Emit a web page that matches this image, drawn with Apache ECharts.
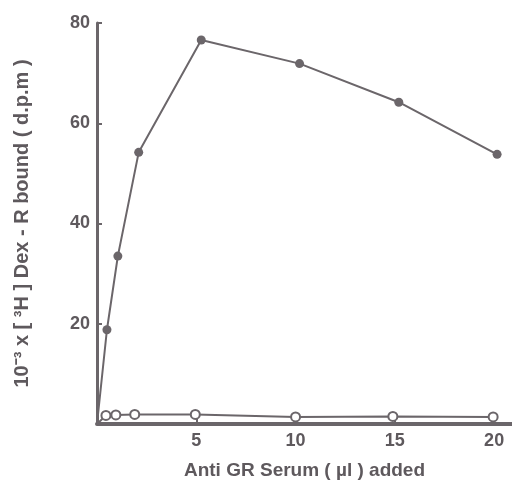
<!DOCTYPE html>
<html>
<head>
<meta charset="utf-8">
<script src="https://cdn.jsdelivr.net/npm/echarts@6/dist/echarts.min.js"></script>
<style>
html, body { margin: 0; padding: 0; background: #fff; }
#chart { width: 512px; height: 488px; }
</style>
</head>
<body>
<div id="chart"></div>
<script>
// serum volume (µl) and bound values
var filledX = [0, 0.5, 1.05, 2.1, 5.25, 10.2, 15.2, 20.15];
var filledY = [0, 18.8, 33.5, 54.2, 76.6, 71.9, 64.2, 53.8];
var openX = [0, 0.45, 0.95, 1.9, 4.95, 10, 14.9, 19.95];
var openY = [0, 1.7, 1.8, 1.9, 1.9, 1.4, 1.5, 1.4];
var yTicks = [0, 20, 40, 60, 80];
var xTicks = [5, 10, 15, 20];

var ink = '#6b666a';
var textInk = '#5e595d';

function toData(xs, ys) {
	var out = [];
	for (var i = 0; i < xs.length; i++) {
		// first point is the origin, drawn without a marker
		if (i === 0) out.push({ value: [xs[i], ys[i]], symbol: 'none' });
		else out.push([xs[i], ys[i]]);
	}
	return out;
}

var chart = echarts.init(document.getElementById('chart'));
var option = {
	animation: false,
	grid: { left: 97, right: 0, top: 23, bottom: 64 },
	textStyle: { fontFamily: 'Liberation Sans' },
	xAxis: {
		type: 'value',
		min: 0,
		max: 20.9,
		name: 'Anti GR Serum ( µl ) added',
		nameLocation: 'middle',
		nameGap: 37,
		nameTextStyle: { color: textInk, fontSize: 19, fontWeight: 'bold' },
		axisLine: { lineStyle: { color: ink, width: 4 } },
		axisTick: { inside: true, length: 5, lineStyle: { color: ink, width: 2 },
			customValues: xTicks },
		axisLabel: { color: textInk, fontSize: 18, fontWeight: 'bold', margin: 8,
			customValues: xTicks },
		splitLine: { show: false }
	},
	yAxis: {
		type: 'value',
		min: 0,
		max: 80,
		interval: 20,
		name: '10⁻³ x [ ³H ] Dex - R bound ( d.p.m )',
		nameLocation: 'middle',
		nameGap: 65,
		nameTextStyle: { color: textInk, fontSize: 20, fontWeight: 'bold' },
		axisLine: { show: true, lineStyle: { color: ink, width: 3 } },
		axisTick: { show: true, inside: true, length: 5, lineStyle: { color: ink, width: 2 } },
		axisLabel: {
			color: textInk, fontSize: 18, fontWeight: 'bold', margin: 7,
			formatter: function (v) { return (v === 0 || yTicks.indexOf(v) < 0) ? '' : v; }
		},
		splitLine: { show: false }
	},
	series: [{
		name: 'filled',
		type: 'line',
		data: toData(filledX, filledY),
		symbol: 'circle',
		symbolSize: 9,
		itemStyle: { color: ink },
		lineStyle: { color: ink, width: 2 }
	}, {
		name: 'open',
		type: 'line',
		data: toData(openX, openY),
		symbol: 'circle',
		symbolSize: 9,
		itemStyle: { color: '#fff', borderColor: ink, borderWidth: 2 },
		lineStyle: { color: ink, width: 2 },
		z: 3
	}]
};
chart.setOption(option);
</script>
</body>
</html>
